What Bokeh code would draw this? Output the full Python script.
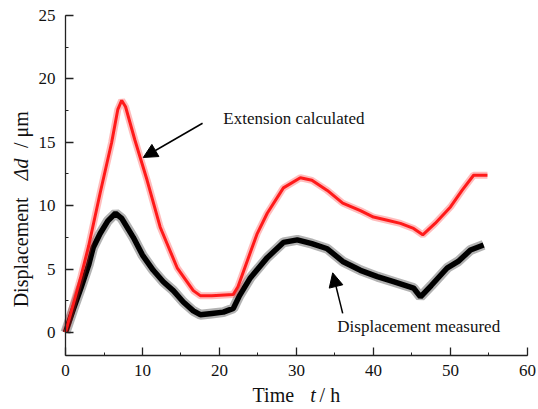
import math
from bokeh.plotting import figure
from bokeh.models import Range1d, Arrow, NormalHead, Label, SingleIntervalTicker, LinearAxis
from bokeh.embed import file_html
from bokeh.resources import INLINE

# Extension calculated (red)
red_t = [0, 1, 2, 3, 4.5, 6, 6.8, 7.3, 7.8, 9, 10.6, 12.3, 14.5, 16.6, 17.5, 19, 21.8, 22.4,
         24, 24.9, 26.2, 28.3, 30.5, 32, 34, 36, 38.3, 40, 41.8, 43.5, 45.2, 46.4, 48, 50,
         51.5, 53, 54.8]
red_y = [0, 2.2, 4.4, 6.8, 11.0, 15.0, 17.6, 18.3, 17.8, 15.2, 12.0, 8.3, 5.1, 3.3, 2.9, 2.9,
         3.0, 3.6, 6.3, 7.8, 9.4, 11.4, 12.2, 12.0, 11.2, 10.2, 9.6, 9.1, 8.85, 8.6, 8.2, 7.7,
         8.6, 9.9, 11.2, 12.4, 12.4]

# Displacement measured (black)
blk_t = [0, 1, 2, 3, 3.6, 4.5, 5.5, 6.5, 7.3, 8.8, 10, 11.4, 12.7, 14, 15.3, 16.6, 17.5, 19,
         20.5, 21.8, 22.6, 24, 26.2, 28.3, 30.1, 32, 34, 36, 38.3, 40.5, 42.6, 45.2, 46.1,
         47.5, 49.6, 51, 52.6, 54.3]
blk_y = [0, 1.8, 3.5, 5.3, 6.7, 7.8, 8.8, 9.4, 9.0, 7.5, 6.1, 4.9, 4.0, 3.3, 2.4, 1.7, 1.4,
         1.5, 1.6, 1.9, 2.9, 4.3, 5.9, 7.1, 7.3, 7.0, 6.6, 5.6, 4.9, 4.4, 4.0, 3.5, 2.8, 3.7,
         5.1, 5.6, 6.5, 6.9]

X_MIN, X_MAX = 0, 60
Y_MIN, Y_MAX = -1.82, 25

FONT = "Liberation Serif"
TXT = "#111111"

W, H = 538, 409
# frame covers whole canvas; axes are pinned at data positions with bounds
p = figure(output_backend="svg", toolbar_location=None,
           frame_width=W, frame_height=H,
           x_range=Range1d(-8.442, 61.43), y_range=Range1d(-6.08, 26.183),
           x_axis_location=None, y_axis_location=None,
           min_border_left=0, min_border_top=0, min_border_right=0, min_border_bottom=0)
p.outline_line_color = None
p.xgrid.visible = False
p.ygrid.visible = False
p.background_fill_color = "white"
p.border_fill_color = "white"

xa = LinearAxis(ticker=SingleIntervalTicker(interval=10, num_minor_ticks=2),
                fixed_location=Y_MIN, bounds=(X_MIN, X_MAX))
ya = LinearAxis(ticker=SingleIntervalTicker(interval=5, num_minor_ticks=2),
                fixed_location=X_MIN, bounds=(Y_MIN, Y_MAX))
for ax in (xa, ya):
    ax.major_tick_in = 8
    ax.major_tick_out = 0
    ax.minor_tick_in = 3
    ax.minor_tick_out = 0
    ax.axis_line_color = "#222222"
    ax.major_tick_line_color = "#222222"
    ax.minor_tick_line_color = "#222222"
    ax.axis_line_width = 1.3
    ax.major_tick_line_width = 1.3
    ax.major_label_text_font = FONT
    ax.major_label_text_font_size = "17px"
    ax.major_label_text_color = TXT
    ax.major_label_standoff = 10
p.add_layout(xa, "below")
p.add_layout(ya, "left")

# fuzzy band + core line
p.line(blk_t, blk_y, line_color="black", line_width=10, line_alpha=0.3)
p.line(blk_t, blk_y, line_color="black", line_width=5.5)
p.line(red_t, red_y, line_color="#ff2020", line_width=7, line_alpha=0.3)
p.line(red_t, red_y, line_color="#ff1a1a", line_width=3)

head1 = NormalHead(size=14, fill_color="black", line_color="black")
p.add_layout(Arrow(end=head1, x_start=17.8, y_start=16.5, x_end=10.1, y_end=13.8,
                   line_color="black", line_width=1.5))
head2 = NormalHead(size=14, fill_color="black", line_color="black")
p.add_layout(Arrow(end=head2, x_start=36.0, y_start=1.5, x_end=34.7, y_end=4.7,
                   line_color="black", line_width=1.5))

def lab(x, y, text, style="normal", size="17px", angle=0.0):
    p.add_layout(Label(x=x, y=y, text=text, text_font=FONT, text_font_style=style,
                       text_font_size=size, text_color=TXT, text_baseline="middle",
                       text_align="left", angle=angle))

lab(20.5, 16.9, "Extension calculated")
lab(35.3, 0.5, "Displacement measured")

# x axis title: Time  t / h
lab(24.3, -4.95, "Time", size="20px")
lab(31.8, -4.95, "t", style="italic", size="20px")
lab(33.0, -4.95, "/ h", size="20px")

# y axis title: Displacement  Δd / μm (rotated)
ang = math.pi / 2
lab(-5.84, 1.98, "Displacement", size="20px", angle=ang)
lab(-5.84, 12.0, "Δd", style="italic", size="20px", angle=ang)
lab(-5.84, 14.55, "/ μm", size="20px", angle=ang)

open("out.html", "w").write(file_html(p, INLINE))
